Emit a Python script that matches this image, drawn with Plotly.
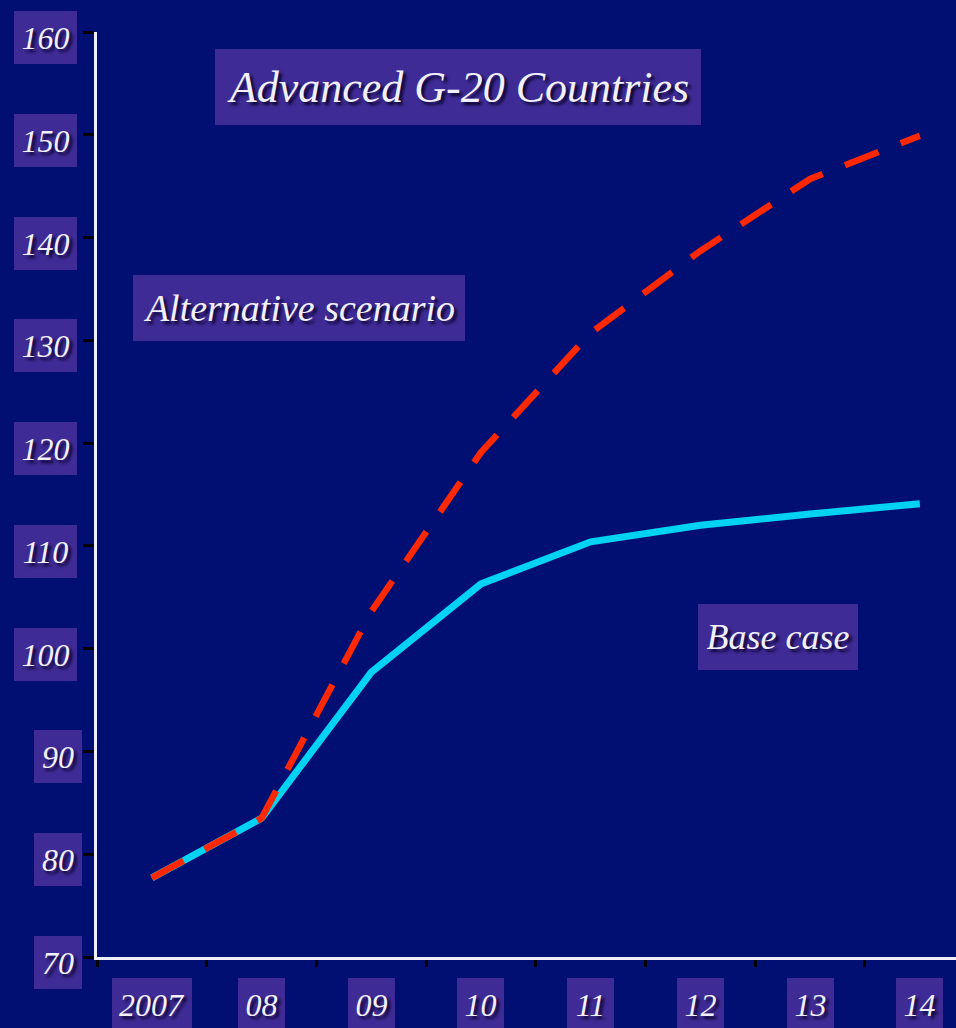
import plotly.graph_objects as go

# Debt ratios, 2007-2014
years = ["2007", "08", "09", "10", "11", "12", "13", "14"]
base_case = [77.7, 83.5, 97.7, 106.3, 110.4, 112.0, 113.1, 114.1]
alternative = [77.7, 83.5, 103.6, 119.1, 130.7, 138.7, 145.7, 149.9]
y_ticks = [70, 80, 90, 100, 110, 120, 130, 140, 150, 160]

title_text = "Advanced G-20 Countries"
alt_label = "Alternative scenario"
base_label = "Base case"

W, H = 956, 1028
M_L, M_R, M_T, M_B = 97, 0, 32, 71
PW, PH = W - M_L - M_R, H - M_T - M_B

NAVY = "#010F72"
BOX = "#3F2B95"
TEXT = "#F2F0FF"
SHADOW = "3px 3px 3px #0A0530"
FONT = "Liberation Serif"


def px_x(px):
    return (px - M_L) / PW


def px_y(py):
    return (H - M_B - py) / PH


fig = go.Figure()
fig.add_trace(go.Scatter(
    x=years, y=base_case, mode="lines",
    line=dict(color="#00D2F2", width=7),
    showlegend=False, hoverinfo="skip",
))
fig.add_trace(go.Scatter(
    x=years, y=alternative, mode="lines",
    line=dict(color="#FF2800", width=6.5, dash="36px,24px"),
    showlegend=False, hoverinfo="skip",
))


def boxed(text, cx, cy, w, h, size, xref="paper", yref="paper"):
    return dict(
        text=text, x=cx, y=cy, xref=xref, yref=yref,
        xanchor="center", yanchor="middle",
        width=w, height=h, bgcolor=BOX, borderpad=0, borderwidth=0,
        showarrow=False, align="center", valign="middle",
        font=dict(family=FONT, size=size, color=TEXT, style="italic",
                  shadow=SHADOW),
    )


annotations = []
# y tick labels
for v in y_ticks:
    tick_py = H - M_B - (v - y_ticks[0]) / (y_ticks[-1] - y_ticks[0]) * PH
    if v >= 100:
        cx, w = 45.5, 63
    else:
        cx, w = 58, 48
    annotations.append(boxed(str(v), px_x(cx), px_y(tick_py + 5.5), w, 53, 32))

# x tick labels (category serial positions on the x axis)
for i, yr in enumerate(years):
    w = 80 if len(yr) == 4 else 47
    annotations.append(boxed(yr, i, px_y(1005), w, 53, 32, xref="x"))

# headings
annotations.append(boxed(title_text, px_x(458), px_y(87), 486, 76, 44))
annotations.append(boxed(alt_label, px_x(299), px_y(308), 332, 66, 38))
annotations.append(boxed(base_label, px_x(778), px_y(637), 160, 66, 36))

fig.update_layout(
    width=W, height=H,
    margin=dict(l=M_L, r=M_R, t=M_T, b=M_B, pad=0),
    paper_bgcolor=NAVY, plot_bgcolor=NAVY,
    annotations=annotations,
    xaxis=dict(
        type="category", categoryorder="array", categoryarray=years,
        range=[-0.5, 7.33], showgrid=False, zeroline=False,
        showline=True, linecolor="#EEEEFF", linewidth=3,
        ticks="outside", tickson="boundaries", ticklen=7, tickwidth=3,
        tickcolor="#000000", showticklabels=False,
    ),
    yaxis=dict(
        range=[70, 160], tickvals=y_ticks, showgrid=False, zeroline=False,
        showline=True, linecolor="#EEEEFF", linewidth=3,
        ticks="outside", ticklen=11, tickwidth=3, tickcolor="#000000",
        showticklabels=False,
    ),
)

fig.write_html("out.html")
